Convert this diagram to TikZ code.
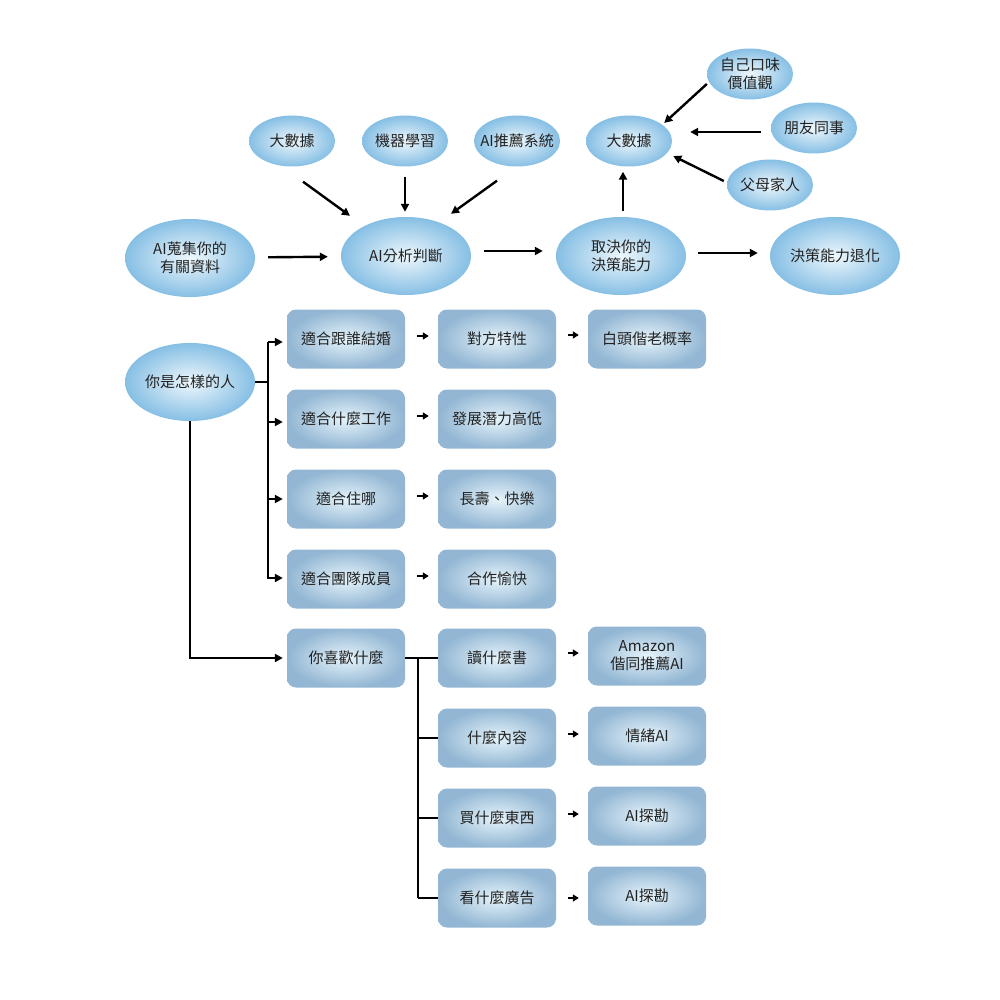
\documentclass[tikz,border=0pt]{standalone}
\usepackage{fontspec}
\setmainfont{Noto Sans CJK TC}
\usetikzlibrary{shapes.geometric,arrows.meta}
\definecolor{ellin}{HTML}{EEF7FC}
\definecolor{ellout}{HTML}{86BFE4}
\definecolor{recin}{HTML}{E6F4FB}
\definecolor{recout}{HTML}{92B6D3}
\definecolor{txt}{HTML}{222222}
\tikzset{
  ell/.style={ellipse, shade, inner color=ellin, outer color=ellout, minimum width=130pt, minimum height=78pt, inner sep=0pt, align=center, text=txt, font=\fontsize{15pt}{18pt}\selectfont},
  sell/.style={ell, minimum width=86pt, minimum height=51pt},
  rbox/.style={rectangle, rounded corners=9pt, shade, inner color=recin, outer color=recout, minimum width=118pt, minimum height=59pt, inner sep=0pt, align=center, text=txt, font=\fontsize{15pt}{18pt}\selectfont},
  arr/.style={line width=2.4pt, -{Triangle[length=8pt,width=8pt]}},
  sarr/.style={line width=2.4pt, -{Triangle[length=6pt,width=7pt]}, shorten <=12pt, shorten >=9pt},
  ln/.style={line width=2.4pt},
}
\begin{document}
\begin{tikzpicture}[x=1pt,y=-1pt]
\useasboundingbox[fill=white] (0,0) rectangle (1000,1000);
% top ellipses
\node[ell] (col) at (190,258) {AI蒐集你的\\有關資料};
\node[ell] (ana) at (406,256) {AI分析判斷};
\node[ell] (dep) at (621,256) {取決你的\\決策能力};
\node[ell] (deg) at (835,256) {決策能力退化};
\node[sell] (bd1) at (292,141) {大數據};
\node[sell] (ml) at (405,141) {機器學習};
\node[sell, inner sep=-10pt] (rec) at (517,141) {AI推薦系統};
\node[sell] (bd2) at (629,141) {大數據};
\node[sell] (tas) at (750,74) {自己口味\\價值觀};
\node[sell] (fri) at (814,128) {朋友同事};
\node[sell] (par) at (770,185) {父母家人};
% top arrows
\draw[arr, shorten <=13pt, shorten >=13pt] (col) -- (ana);
\draw[arr, shorten <=13pt, shorten >=13pt] ([yshift=5pt]ana.east) -- ([yshift=5pt]dep.west);
\draw[arr, shorten <=12pt, shorten >=12pt] ([yshift=3pt]dep.east) -- ([yshift=3pt]deg.west);
\draw[arr] ([shift={(11,15)}]bd1.south) -- ([shift={(-56,-1)}]ana.north);
\draw[arr, shorten <=10pt, shorten >=5pt] (ml.south) -- (ml.south |- ana.north);
\draw[arr] ([shift={(-20,14)}]rec.south) -- ([shift={(45,-3)}]ana.north);
\draw[arr, shorten >=5pt] (dep.north) ++(2,-6) coordinate (du) -- (du |- bd2.south);
\draw[arr] ([shift={(0,10)}]tas.west) -- ([shift={(-8,-18)}]bd2.east);
\draw[arr, shorten <=10pt, shorten >=18pt] (fri.west |- 0,132) -- (bd2.east |- 0,132);
\draw[arr] ([shift={(-3,-4)}]par.west) -- ([shift={(1,15)}]bd2.east);
% who are you tree
\node[ell] (who) at (190,382) {你是怎樣的人};
\node[rbox] (m1) at (346,339) {適合跟誰結婚};
\node[rbox] (m2) at (497,339) {對方特性};
\node[rbox] (m3) at (647,339) {白頭偕老概率};
\node[rbox] (w1) at (346,419) {適合什麼工作};
\node[rbox] (w2) at (497,419) {發展潛力高低};
\node[rbox] (l1) at (346,499) {適合住哪};
\node[rbox] (l2) at (497,499) {長壽、快樂};
\node[rbox] (t1) at (346,579) {適合團隊成員};
\node[rbox] (t2) at (497,579) {合作愉快};
\draw[ln] (who.east) -- ++(13,0) coordinate (j1);
\draw[ln] (j1 |- 0,342) -- (j1 |- 0,579);
\draw[arr, shorten >=4pt] (j1 |- 0,342) -- (m1.west |- 0,342);
\draw[arr, shorten >=4pt] (j1 |- 0,422) -- (w1.west |- 0,422);
\draw[arr, shorten >=4pt] (j1 |- 0,499) -- (l1.west |- 0,499);
\draw[arr, shorten >=4pt] (j1 |- 0,578) -- (t1.west |- 0,578);
\draw[sarr] ([yshift=3pt]m1.east) -- ([yshift=3pt]m2.west);
\draw[sarr] ([yshift=4pt]m2.east) -- ([yshift=4pt]m3.west);
\draw[sarr] ([yshift=3pt]w1.east) -- ([yshift=3pt]w2.west);
\draw[sarr] ([yshift=3pt]l1.east) -- ([yshift=3pt]l2.west);
\draw[sarr] ([yshift=3pt]t1.east) -- ([yshift=3pt]t2.west);
% what do you like tree
\node[rbox] (k1) at (346,658) {你喜歡什麼};
\node[rbox] (r1) at (497,658) {讀什麼書};
\node[rbox] (r2) at (497,738) {什麼內容};
\node[rbox] (r3) at (497,818) {買什麼東西};
\node[rbox] (r4) at (497,898) {看什麼廣告};
\node[rbox] (a1) at (647,656) {Amazon\\偕同推薦AI};
\node[rbox] (a2) at (647,736) {情緒AI};
\node[rbox] (a3) at (647,816) {AI探勘};
\node[rbox] (a4) at (647,896) {AI探勘};
\draw[arr, shorten >=4pt] (who.south) -- (who.south |- k1) -- (k1.west);
\draw[ln] (k1.east) -- (r1.west);
\coordinate (j2) at (418,658);
\draw[ln] (j2) -- (j2 |- r4);
\draw[ln] (j2 |- r2) -- (r2.west);
\draw[ln] (j2 |- r3) -- (r3.west);
\draw[ln] (j2 |- r4) -- (r4.west);
\draw[sarr] ([yshift=5pt]r1.east) -- ([yshift=5pt]r1.east -| a1.west);
\draw[sarr] ([yshift=4pt]r2.east) -- ([yshift=4pt]r2.east -| a2.west);
\draw[sarr] ([yshift=4pt]r3.east) -- ([yshift=4pt]r3.east -| a3.west);
\draw[sarr] (r4.east) -- (r4.east -| a4.west);
\end{tikzpicture}
\end{document}
